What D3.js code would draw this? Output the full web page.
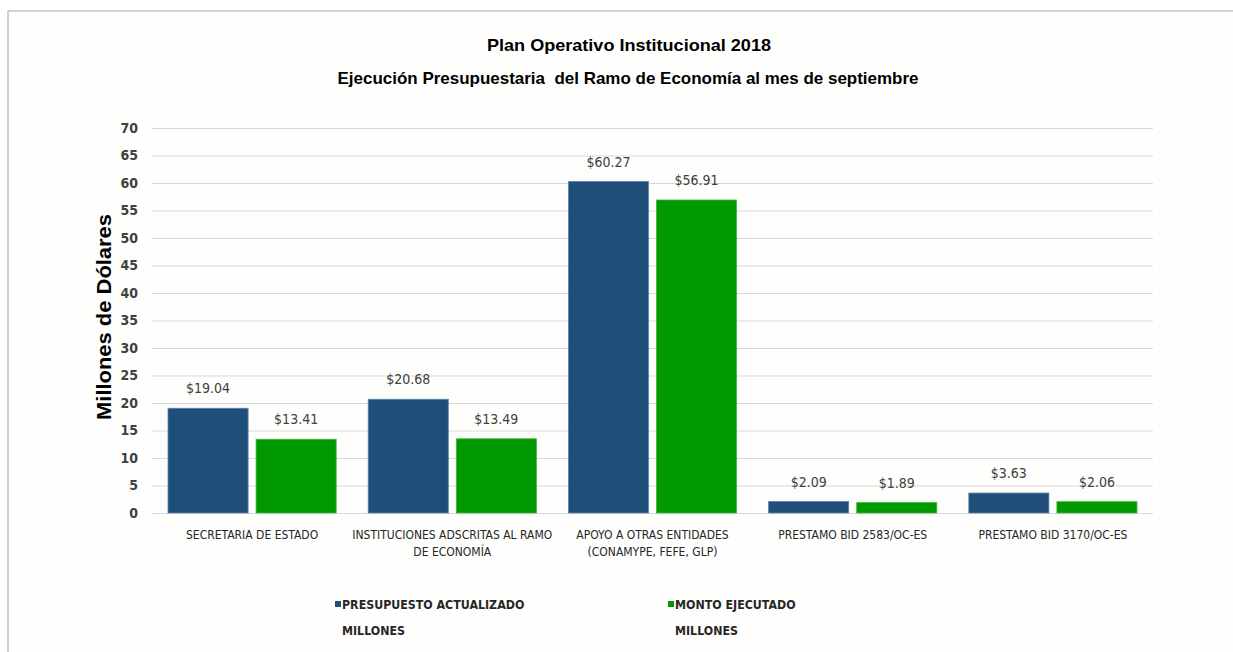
<!DOCTYPE html>
<html><head><meta charset="utf-8">
<script src="https://cdn.jsdelivr.net/npm/d3@7"></script>
<style>
html,body{margin:0;padding:0;background:#fff;}
svg{display:block;}
</style></head>
<body>
<svg id="chart" width="1233" height="652"></svg>
<script>
const categories = [
  ["SECRETARIA DE ESTADO"],
  ["INSTITUCIONES ADSCRITAS AL RAMO", "DE ECONOMÍA"],
  ["APOYO A OTRAS ENTIDADES", "(CONAMYPE, FEFE, GLP)"],
  ["PRESTAMO BID 2583/OC-ES"],
  ["PRESTAMO BID 3170/OC-ES"]
];
const presupuesto = [19.04, 20.68, 60.27, 2.09, 3.63];
const ejecutado = [13.41, 13.49, 56.91, 1.89, 2.06];
const seriesNames = [["PRESUPUESTO ACTUALIZADO", "MILLONES"], ["MONTO EJECUTADO", "MILLONES"]];
const seriesColors = ["#1f4e79", "#009a00"];
const yTicks = [0,5,10,15,20,25,30,35,40,45,50,55,60,65,70];

const svg = d3.select("#chart");
const narrow = "'Liberation Sans Narrow','DejaVu Sans Condensed',Arial,sans-serif";
const sans = "'Liberation Sans',Arial,sans-serif";

// frame
svg.append("rect").attr("x",0).attr("y",0).attr("width",1233).attr("height",652).attr("fill","#ffffff");
svg.append("rect").attr("x",8).attr("y",11).attr("width",1240).attr("height",660)
  .attr("fill","#fefefc").attr("stroke","#a9b9cc").attr("stroke-width",1.2);

const margin = {left:152, right:1153, top:128, bottom:513};
const y = d3.scaleLinear().domain([0,70]).range([margin.bottom, margin.top]);
const x0 = d3.scaleBand().domain(d3.range(categories.length)).range([margin.left, margin.right]).paddingInner(0.16).paddingOuter(0.08);
const x1 = d3.scaleBand().domain([0,1]).range([0, x0.bandwidth()]).paddingInner(0.0909);

// gridlines
const yAxis = d3.axisLeft(y).tickValues(yTicks).tickSize(-(margin.right-margin.left)).tickPadding(14);
const gy = svg.append("g").attr("transform",`translate(${margin.left},0)`).call(yAxis);
gy.select(".domain").remove();
gy.selectAll(".tick line").attr("stroke","#d9d9d9").attr("stroke-width",1);
gy.selectAll(".tick text").attr("font-family",narrow).attr("font-size",14).attr("font-weight","bold").attr("fill","#404040");

// bars
const data = categories.map((c,i)=>({i, vals:[presupuesto[i], ejecutado[i]]}));
const groups = svg.append("g").selectAll("g").data(data).join("g")
  .attr("transform", d=>`translate(${x0(d.i)},0)`);
groups.selectAll("rect").data(d=>d.vals.map((v,k)=>({v,k}))).join("rect")
  .attr("x", d=>x1(d.k)).attr("width", x1.bandwidth())
  .attr("y", d=>y(d.v)).attr("height", d=>y(0)-y(d.v))
  .attr("fill", d=>seriesColors[d.k])
  .attr("stroke", d=>d.k===0 ? "#5d84ad" : "#3fb43f").attr("stroke-width",0.8);
groups.selectAll("text").data(d=>d.vals.map((v,k)=>({v,k}))).join("text")
  .attr("x", d=>x1(d.k)+x1.bandwidth()/2).attr("y", d=>y(d.v)-15)
  .attr("text-anchor","middle").attr("font-family",narrow).attr("font-size",14)
  .attr("fill","#404040").text(d=>"$"+d.v.toFixed(2));

// category labels
const cl = svg.append("g").selectAll("text").data(categories).join("text")
  .attr("x",(d,i)=>x0(i)+x0.bandwidth()/2).attr("y",539)
  .attr("text-anchor","middle").attr("font-family",narrow).attr("font-size",12).attr("fill","#262626");
cl.selectAll("tspan").data(d=>d).join("tspan")
  .attr("x",function(){return this.parentNode.getAttribute("x");})
  .attr("dy",(d,j)=>j===0?0:17).text(d=>d);

// y title
svg.append("text").attr("transform","translate(111,317) rotate(-90)")
  .attr("text-anchor","middle").attr("font-family",sans).attr("font-weight","bold")
  .attr("font-size",20).attr("fill","#000")
  .attr("textLength",206).attr("lengthAdjust","spacingAndGlyphs")
  .text("Millones de Dólares");

// titles
svg.append("text").attr("x",629).attr("y",51).attr("text-anchor","middle")
  .attr("font-family",sans).attr("font-weight","bold").attr("font-size",17).attr("fill","#000")
  .attr("textLength",284).attr("lengthAdjust","spacingAndGlyphs")
  .text("Plan Operativo Institucional 2018");
svg.append("text").attr("x",628).attr("y",84).attr("text-anchor","middle")
  .attr("font-family",sans).attr("font-weight","bold").attr("font-size",17).attr("fill","#000")
  .attr("xml:space","preserve").style("white-space","pre")
  .attr("textLength",581).attr("lengthAdjust","spacingAndGlyphs")
  .text("Ejecución Presupuestaria  del Ramo de Economía al mes de septiembre");

// legend
const legX = [335, 668];
const leg = svg.append("g").selectAll("g").data(seriesNames).join("g")
  .attr("transform",(d,i)=>`translate(${legX[i]},0)`);
leg.append("rect").attr("x",0).attr("y",601).attr("width",6).attr("height",6).attr("fill",(d,i)=>seriesColors[i]);
leg.append("text").attr("x",7).attr("y",609).attr("font-family",narrow).attr("font-size",12.3)
  .attr("font-weight","bold").attr("fill","#262626").text(d=>d[0]);
leg.append("text").attr("x",7).attr("y",635).attr("font-family",narrow).attr("font-size",12.3)
  .attr("font-weight","bold").attr("fill","#262626").text(d=>d[1]);
</script>
</body></html>
